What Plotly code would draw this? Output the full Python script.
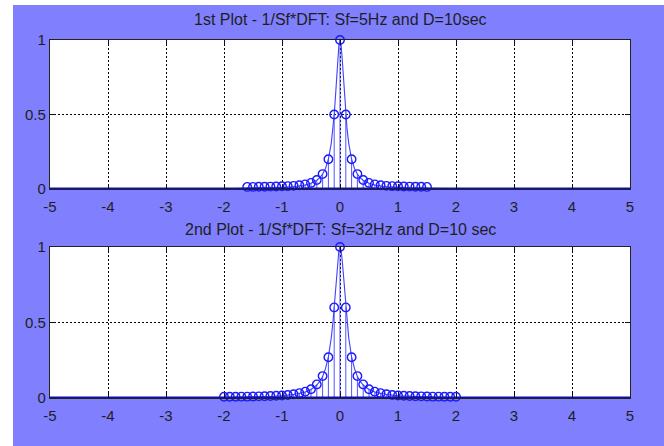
import plotly.graph_objects as go

# ---------------- data ----------------
title_top = "1st Plot - 1/Sf*DFT: Sf=5Hz and D=10sec"
title_bot = "2nd Plot - 1/Sf*DFT: Sf=32Hz and D=10 sec"

x_ticks = [-5, -4, -3, -2, -1, 0, 1, 2, 3, 4, 5]
x_tick_labels = ["-5", "-4", "-3", "-2", "-1", "0", "1", "2", "3", "4", "5"]
y_ticks = [0, 0.5, 1]
y_tick_labels = ["0", "0.5", "1"]

# top plot: DFT samples (stems)
top_freq = [-1.6, -1.5, -1.4, -1.3, -1.2, -1.1, -1.0, -0.9, -0.8, -0.7, -0.6, -0.5,
            -0.4, -0.3, -0.2, -0.1, 0.0, 0.1, 0.2, 0.3, 0.4, 0.5, 0.6, 0.7, 0.8,
            0.9, 1.0, 1.1, 1.2, 1.3, 1.4, 1.5]
top_dft = [0.014, 0.014, 0.015, 0.015, 0.016, 0.017, 0.018, 0.019, 0.021, 0.025, 0.031, 0.041,
           0.06, 0.1, 0.2, 0.5, 1.0, 0.5, 0.2, 0.1, 0.06, 0.041, 0.031, 0.025, 0.021,
           0.019, 0.018, 0.017, 0.016, 0.015, 0.015, 0.014]

# top plot: continuous spectrum
top_curve_f = [-1.8, -1.5, -1.2, -1.0, -0.8, -0.6, -0.5, -0.4, -0.35, -0.3, -0.25, -0.2,
               -0.15, -0.12, -0.1, -0.08, -0.06, -0.04, -0.02, 0.0, 0.02, 0.04, 0.06,
               0.08, 0.1, 0.12, 0.15, 0.2, 0.25, 0.3, 0.35, 0.4, 0.5, 0.6, 0.8, 1.0,
               1.2, 1.5, 1.8]
top_curve_v = [0.003, 0.0044, 0.0069, 0.0099, 0.0154, 0.027, 0.0385, 0.0588, 0.0755, 0.1,
               0.138, 0.2, 0.308, 0.41, 0.5, 0.61, 0.735, 0.862, 0.962, 1.0, 0.962, 0.862,
               0.735, 0.61, 0.5, 0.41, 0.308, 0.2, 0.138, 0.1, 0.0755, 0.0588, 0.0385,
               0.027, 0.0154, 0.0099, 0.0069, 0.0044, 0.003]

# bottom plot: DFT samples (stems)
bot_freq = [-2.0, -1.9, -1.8, -1.7, -1.6, -1.5, -1.4, -1.3, -1.2, -1.1, -1.0, -0.9, -0.8,
            -0.7, -0.6, -0.5, -0.4, -0.3, -0.2, -0.1, 0.0, 0.1, 0.2, 0.3, 0.4, 0.5, 0.6,
            0.7, 0.8, 0.9, 1.0, 1.1, 1.2, 1.3, 1.4, 1.5, 1.6, 1.7, 1.8, 1.9, 2.0]
bot_dft = [0.008, 0.008, 0.008, 0.009, 0.009, 0.01, 0.011, 0.012, 0.013, 0.015, 0.017, 0.02,
           0.025, 0.032, 0.042, 0.058, 0.09, 0.145, 0.27, 0.6, 1.0, 0.6, 0.27, 0.145, 0.09,
           0.058, 0.042, 0.032, 0.025, 0.02, 0.017, 0.015, 0.013, 0.012, 0.011, 0.01,
           0.009, 0.009, 0.008, 0.008, 0.008]

# bottom plot: continuous spectrum
bot_curve_f = [-2.0, -1.6, -1.2, -1.0, -0.8, -0.6, -0.5, -0.4, -0.35, -0.3, -0.25, -0.2,
               -0.15, -0.12, -0.1, -0.08, -0.06, -0.04, -0.02, 0.0, 0.02, 0.04, 0.06,
               0.08, 0.1, 0.12, 0.15, 0.2, 0.25, 0.3, 0.35, 0.4, 0.5, 0.6, 0.8, 1.0,
               1.2, 1.6, 2.0]
bot_curve_v = [0.0037, 0.0058, 0.0103, 0.0148, 0.0229, 0.04, 0.0566, 0.0857, 0.109, 0.143,
               0.194, 0.273, 0.4, 0.51, 0.6, 0.70, 0.806, 0.904, 0.974, 1.0, 0.974, 0.904,
               0.806, 0.70, 0.6, 0.51, 0.4, 0.273, 0.194, 0.143, 0.109, 0.0857, 0.0566,
               0.04, 0.0229, 0.0148, 0.0103, 0.0058, 0.0037]

# ---------------- styling ----------------
W, H = 664, 446
ML, MR, MT, MB = 50, 34, 40, 48
BLUE = "#1a1aff"
BLUE_LIGHT = "#4040ff"
BASE = "#1010a8"
FIG_BG = "#8080ff"
TXT = "#1e1e1e"
FONT = "Liberation Sans, Arial, sans-serif"

fig = go.Figure()


def stem_xy(xs, ys):
    sx, sy = [], []
    for a, b in zip(xs, ys):
        sx += [a, a, None]
        sy += [0, b, None]
    return sx, sy


def add_panel(xs, ys, cf, cv, xa, ya):
    bx, by = stem_xy(xs, ys)
    fig.add_trace(go.Scatter(x=bx, y=by, mode="lines", line=dict(color=BLUE_LIGHT, width=0.9),
                             xaxis=xa, yaxis=ya, hoverinfo="skip", showlegend=False))
    fig.add_trace(go.Scatter(x=cf, y=cv, mode="lines", line=dict(color=BLUE_LIGHT, width=1.1),
                             xaxis=xa, yaxis=ya, hoverinfo="skip", showlegend=False))
    fig.add_trace(go.Scatter(x=xs, y=ys, mode="markers",
                             marker=dict(symbol="circle-open", size=8.5, color=BLUE,
                                         line=dict(width=1.4, color=BLUE)),
                             xaxis=xa, yaxis=ya, cliponaxis=False,
                             hoverinfo="skip", showlegend=False))
    fig.add_trace(go.Scatter(x=[x_ticks[0], x_ticks[-1]], y=[0, 0], mode="lines",
                             line=dict(color=BASE, width=3), xaxis=xa, yaxis=ya,
                             hoverinfo="skip", showlegend=False))


add_panel(top_freq, top_dft, top_curve_f, top_curve_v, "x", "y")
add_panel(bot_freq, bot_dft, bot_curve_f, bot_curve_v, "x2", "y2")

plot_h = H - MT - MB
y1_bot = (398 - 189) / plot_h
y2_top = (398 - 247) / plot_h

xax = dict(range=[-5, 5], tickvals=x_ticks, ticktext=x_tick_labels,
           showgrid=True, gridcolor="#000000", gridwidth=1, griddash="2px,2px",
           showline=True, linecolor="#222222", linewidth=1, mirror="allticks",
           ticks="inside", ticklen=5, tickcolor="#111111", zeroline=False,
           ticklabelstandoff=4,
           tickfont=dict(family=FONT, size=15, color=TXT), fixedrange=True)
yax = dict(range=[0, 1], tickvals=y_ticks, ticktext=y_tick_labels,
           showgrid=True, gridcolor="#000000", gridwidth=1, griddash="2px,2px",
           showline=True, linecolor="#222222", linewidth=1.3, mirror="allticks",
           ticks="inside", ticklen=5, tickcolor="#111111", zeroline=False,
           tickfont=dict(family=FONT, size=15, color=TXT), fixedrange=True)

fig.update_layout(
    width=W, height=H,
    margin=dict(l=ML, r=MR, t=MT, b=MB, pad=0),
    paper_bgcolor=FIG_BG, plot_bgcolor="#ffffff",
    showlegend=False,
    xaxis=dict(xax, domain=[0, 1], anchor="y"),
    yaxis=dict(yax, domain=[y1_bot, 1], anchor="x"),
    xaxis2=dict(xax, domain=[0, 1], anchor="y2"),
    yaxis2=dict(yax, domain=[0, y2_top], anchor="x2"),
)

# white strips (left and top) of the screenshot
pw = W - ML - MR
def px_x(p):
    return (p - ML) / pw
def px_y(p):
    return (H - MB - p) / plot_h

fig.add_shape(type="rect", xref="paper", yref="paper",
              x0=px_x(0), x1=px_x(13), y0=px_y(H), y1=px_y(0),
              fillcolor="#ffffff", line=dict(width=0), layer="above")
fig.add_shape(type="rect", xref="paper", yref="paper",
              x0=px_x(0), x1=px_x(W), y0=px_y(5), y1=px_y(0),
              fillcolor="#ffffff", line=dict(width=0), layer="above")

fig.add_annotation(text=title_top, xref="paper", yref="paper", x=0.5, y=px_y(20),
                   xanchor="center", yanchor="middle", showarrow=False,
                   font=dict(family=FONT, size=16, color=TXT))
fig.add_annotation(text=title_bot, xref="paper", yref="paper", x=0.5, y=px_y(229),
                   xanchor="center", yanchor="middle", showarrow=False,
                   font=dict(family=FONT, size=16, color=TXT))

fig.write_html("out.html", config={"displayModeBar": False},
               post_script="document.body.style.margin='0px';document.body.style.overflow='hidden';")
